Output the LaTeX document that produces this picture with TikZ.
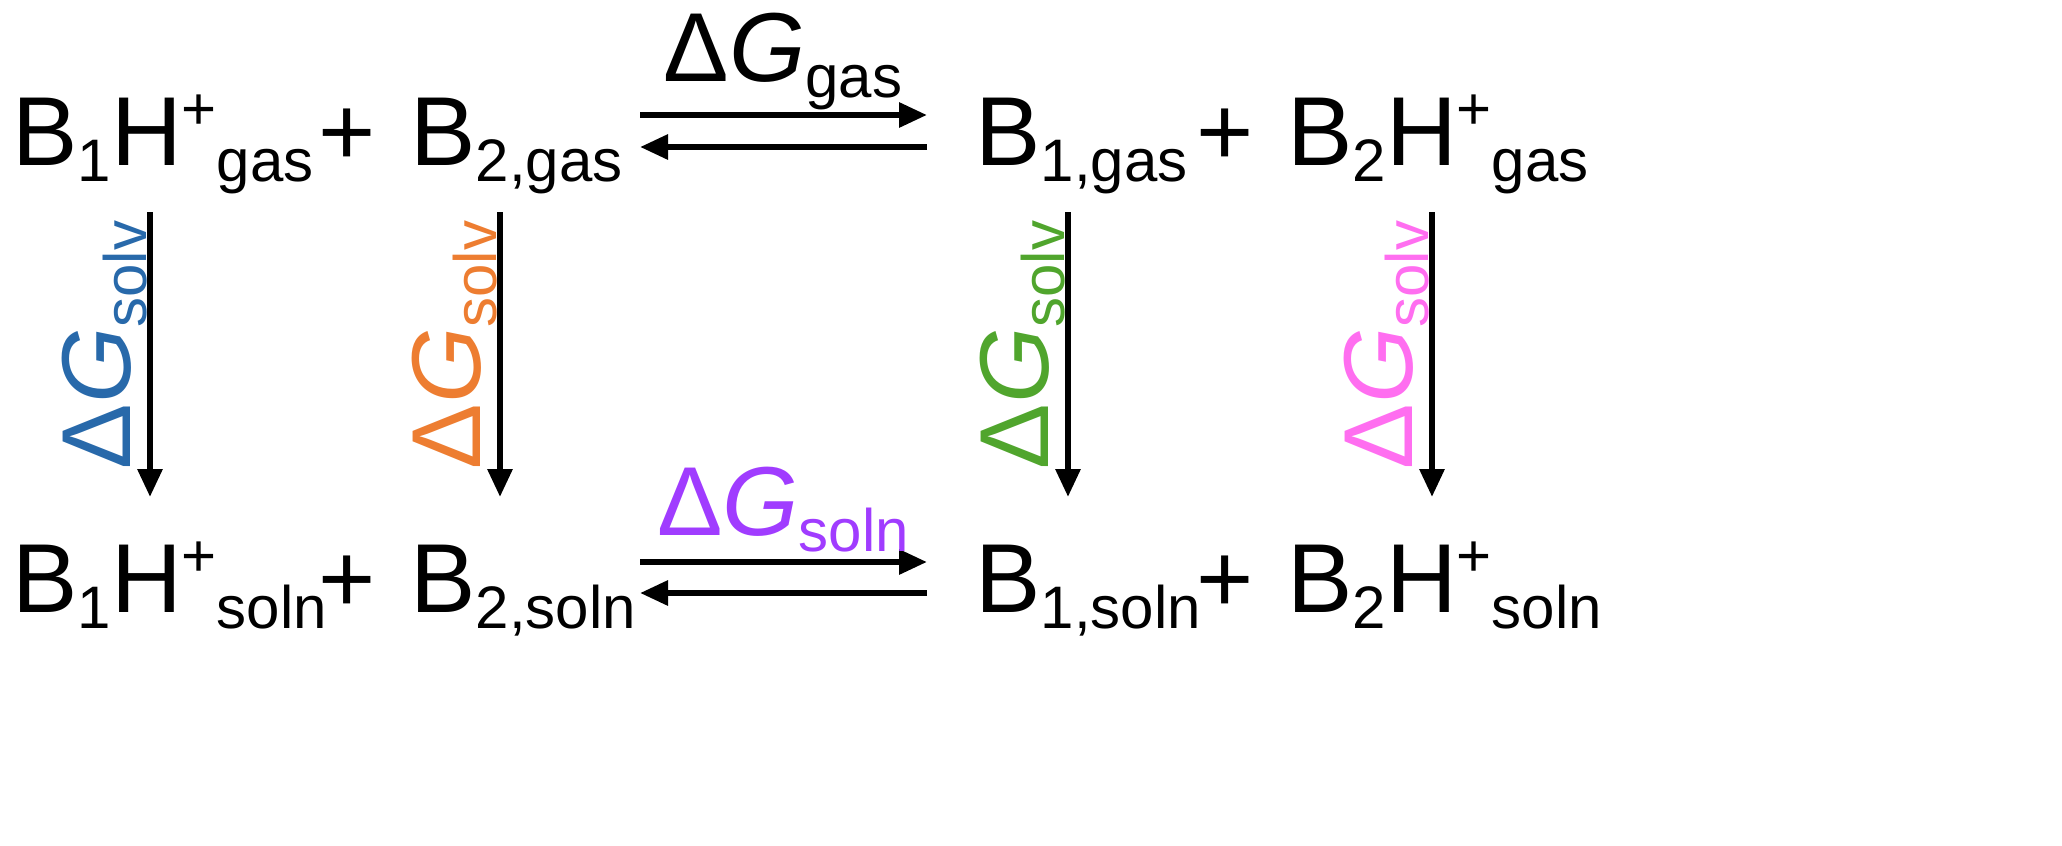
\documentclass[tikz,border=0pt]{standalone}
\usepackage{fontspec}
\setmainfont{Liberation Sans}
\usetikzlibrary{arrows.meta}
\definecolor{cblue}{RGB}{40,105,170}
\definecolor{corange}{RGB}{237,125,49}
\definecolor{cgreen}{RGB}{80,165,45}
\definecolor{cpink}{RGB}{255,110,240}
\definecolor{cpurple}{RGB}{160,60,255}
\newcommand{\mysb}[1]{\raisebox{-8pt}{\fontsize{30}{30}\selectfont #1}}
\newcommand{\mysp}[1]{\raisebox{18pt}{\fontsize{30}{30}\selectfont #1}}
\newcommand{\dG}[1]{Δ\textit{G}\mysb{#1}}
\begin{document}
\begin{tikzpicture}[x=0.5pt,y=-0.5pt,
  every node/.style={inner sep=0pt,font=\fontsize{49}{55}\selectfont},
  chem/.style={anchor=base west},
  arr/.style={line width=3pt,-{Triangle[length=14pt,width=12pt]}},
  vlab/.style={rotate=90,anchor=center}]
\useasboundingbox (0,0) rectangle (2062,846);
% top row
\node[chem] (a1) at (12,165) {B\mysb{1}H\mysp{+}\mysb{gas}};
\node[chem] (p1) at (318,165) {+};
\node[chem] (a2) at (410,165) {B\mysb{2,gas}};
\node[chem] (a3) at (975,165) {B\mysb{1,gas}};
\node[chem] (p2) at (1196,165) {+};
\node[chem] (a4) at (1287,165) {B\mysb{2}H\mysp{+}\mysb{gas}};
% bottom row
\node[chem] (b1) at (12,612) {B\mysb{1}H\mysp{+}\mysb{soln}};
\node[chem] (p3) at (318,612) {+};
\node[chem] (b2) at (410,612) {B\mysb{2,soln}};
\node[chem] (b3) at (975,612) {B\mysb{1,soln}};
\node[chem] (p4) at (1196,612) {+};
\node[chem] (b4) at (1287,612) {B\mysb{2}H\mysp{+}\mysb{soln}};
% horizontal arrows
\coordinate (h1s) at (640,115); \coordinate (h1e) at (927,115);
\coordinate (h2s) at (927,147); \coordinate (h2e) at (640,147);
\coordinate (h3s) at (640,562); \coordinate (h3e) at (927,562);
\coordinate (h4s) at (927,593); \coordinate (h4e) at (640,593);
\draw[arr] (h1s) -- (h1e);
\draw[arr] (h2s) -- (h2e);
\draw[arr] (h3s) -- (h3e);
\draw[arr] (h4s) -- (h4e);
\node (lg) at (783,62) {\dG{gas}};
\node[text=cpurple] (ls) at (783,510) {\dG{soln}};
% vertical arrows
\foreach \x/\c/\n in {150/cblue/1,500/corange/2,1068/cgreen/3,1432/cpink/4}{
  \coordinate (vt\n) at (\x,212); \coordinate (vb\n) at (\x,497);
  \draw[arr] (vt\n) -- (vb\n);
  \node[vlab,text=\c] (vl\n) at (\x-45,345) {\dG{solv}};
}
\end{tikzpicture}
\end{document}
